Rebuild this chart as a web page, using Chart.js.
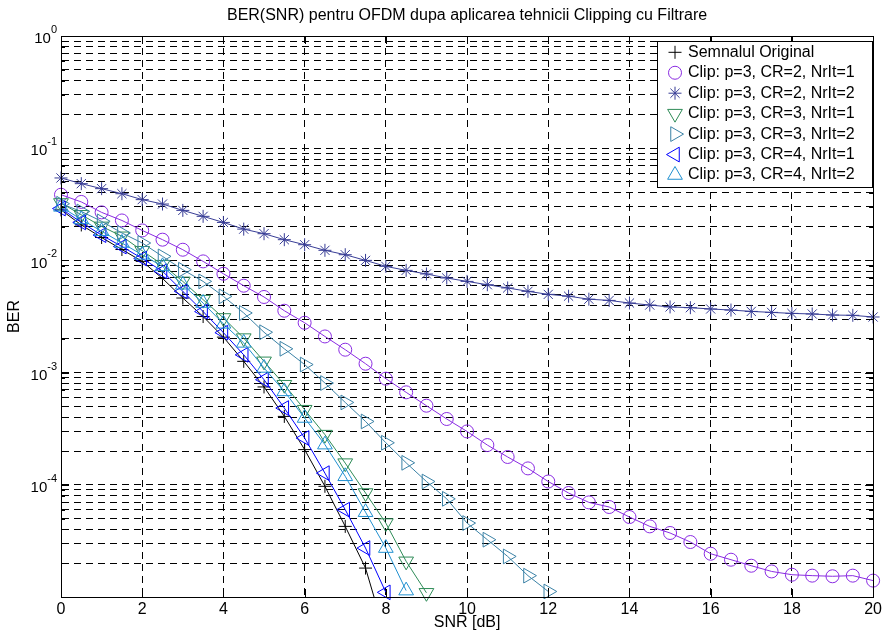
<!DOCTYPE html>
<html>
<head>
<meta charset="utf-8">
<script src="https://cdn.jsdelivr.net/npm/chart.js@4.4.1/dist/chart.umd.min.js"></script>
<style>
  html, body { margin: 0; padding: 0; background: #fff; }
  #wrap { width: 885px; height: 635px; }
</style>
</head>
<body>
<div id="wrap"><canvas id="berChart" width="885" height="635"></canvas></div>
<script>
// SNR in dB (pas 0.5 dB)
const snrDb = [0,0.5,1,1.5,2,2.5,3,3.5,4,4.5,5,5.5,6,6.5,7,7.5,8,8.5,9,9.5,10,
               10.5,11,11.5,12,12.5,13,13.5,14,14.5,15,15.5,16,16.5,17,17.5,18,18.5,19,19.5,20];

// BER
const berOriginal = [0.0282,0.0207,0.0160,0.0125,0.0098,0.0069,0.00462,0.00316,0.00207,0.00126,
                     7.45e-4,4.07e-4,2.06e-4,9.7e-5,4.26e-5,1.81e-5,4.4e-6];
const berCr2It1 = [0.0385,0.0332,0.0268,0.0227,0.0185,0.0153,0.01245,0.0098,0.0076,0.00595,
                   0.00472,0.00356,0.00278,0.0021,0.0016,0.0012,8.83e-4,6.67e-4,5.07e-4,3.86e-4,
                   2.99e-4,2.26e-4,1.77e-4,1.40e-4,1.07e-4,8.45e-5,6.97e-5,6.34e-5,5.16e-5,4.26e-5,
                   3.72e-5,3.09e-5,2.43e-5,2.15e-5,1.90e-5,1.69e-5,1.58e-5,1.55e-5,1.53e-5,1.55e-5,1.40e-5];
const berCr2It2 = [0.0543,0.0483,0.0436,0.0393,0.0348,0.0318,0.0279,0.0247,0.0218,0.0190,
                   0.0173,0.0153,0.0138,0.0123,0.01124,0.0100,0.00885,0.00815,0.00757,0.00697,
                   0.0065,0.00607,0.00568,0.0053,0.00498,0.0048,0.00451,0.0044,0.00417,0.0040,
                   0.00385,0.00379,0.00369,0.00361,0.00351,0.00344,0.00337,0.00333,0.00326,0.00324,0.00313];
const berCr3It1 = [0.0325,0.0255,0.0201,0.0164,0.0122,0.00916,0.0065,0.00447,0.00307,0.00203,
                   0.00126,7.8e-4,4.67e-4,2.8e-4,1.56e-4,8.45e-5,4.56e-5,2.08e-5,1.09e-5];
const berCr3It2 = [0.0320,0.0273,0.0223,0.01755,0.01429,0.01086,0.00826,0.0065,0.00478,0.0034,
                   0.00229,0.00163,0.00118,8.07e-4,5.42e-4,3.67e-4,2.37e-4,1.57e-4,1.07e-4,7.5e-5,
                   4.56e-5,3.24e-5,2.30e-5,1.55e-5,1.12e-5];
const berCr4It1 = [0.0290,0.0218,0.0168,0.0133,0.0104,0.0080,0.0053,0.0035,0.00227,0.00144,
                   8.65e-4,4.83e-4,2.61e-4,1.27e-4,6.0e-5,2.73e-5,1.10e-5];
const berCr4It2 = [0.0300,0.0232,0.0182,0.0143,0.0112,0.00885,0.00607,0.00417,0.00272,0.00184,
                   0.00110,6.8e-4,3.94e-4,2.28e-4,1.19e-4,5.7e-5,2.73e-5,1.14e-5];

const seriesLabels = [
  'Semnalul Original',
  'Clip: p=3, CR=2, NrIt=1',
  'Clip: p=3, CR=2, NrIt=2',
  'Clip: p=3, CR=3, NrIt=1',
  'Clip: p=3, CR=3, NrIt=2',
  'Clip: p=3, CR=4, NrIt=1',
  'Clip: p=3, CR=4, NrIt=2'
];
const seriesValues = [berOriginal, berCr2It1, berCr2It2, berCr3It1, berCr3It2, berCr4It1, berCr4It2];

const chartTitle = 'BER(SNR) pentru OFDM dupa aplicarea tehnicii Clipping cu Filtrare';

// axe
const xTicks = [0,2,4,6,8,10,12,14,16,18,20];
const yDecades = [1e-5,1e-4,1e-3,1e-2,1e-1,1];
const yMinorSteps = [2,3,4,5,6,7,8,9];
const yLabelExps = ['-4','-3','-2','-1','0'];

// stiluri (marker MATLAB -> pointStyle Chart.js)
const styles = [
  { color: '#000000', point: 'cross',    rot: 0,   r: 6.5 },
  { color: '#8a2be2', point: 'circle',   rot: 0,   r: 6.5 },
  { color: '#383d96', point: 'star',     rot: 0,   r: 6.5 },
  { color: '#2e8b57', point: 'triangle', rot: 180, r: 8.5 },
  { color: '#3b82a6', point: 'triangle', rot: 90,  r: 8.5 },
  { color: '#0000ff', point: 'triangle', rot: 270, r: 8.5 },
  { color: '#2090d0', point: 'triangle', rot: 0,   r: 8.5 }
];

const FONT = '"Liberation Sans", Arial, sans-serif';

const yGridTicks = [];
yDecades.forEach(d => {
  yGridTicks.push({ value: d, major: true });
  if (d < 1) yMinorSteps.forEach(m => yGridTicks.push({ value: m * d, major: false }));
});

const datasets = seriesValues.map((vals, i) => {
  const st = styles[i];
  return {
    label: seriesLabels[i],
    data: vals.map((v, k) => ({ x: snrDb[k], y: v })),
    borderColor: st.color,
    borderWidth: 1,
    pointStyle: st.point,
    pointRotation: st.rot,
    pointRadius: st.r,
    pointBorderWidth: 1,
    pointBorderColor: st.color,
    pointBackgroundColor: 'rgba(0,0,0,0)',
    tension: 0,
    order: seriesValues.length - i,
    clip: i === 0 ? { left: 9, top: 9, right: 9, bottom: 0 } : 9
  };
});

// rama, tick-uri interioare, titlu, etichete 10^n si legenda
const matlabAxes = {
  id: 'matlabAxes',
  afterDraw(chart) {
    const ctx = chart.ctx;
    const a = chart.chartArea;
    const xs = chart.scales.x;
    const ys = chart.scales.y;
    ctx.save();
    ctx.strokeStyle = '#000';
    ctx.lineWidth = 1;
    ctx.setLineDash([]);
    ctx.strokeRect(Math.round(a.left) + 0.5, Math.round(a.top) + 0.5,
                   Math.round(a.right - a.left), Math.round(a.bottom - a.top));

    ctx.beginPath();
    xTicks.forEach(t => {
      const px = Math.round(xs.getPixelForValue(t)) + 0.5;
      ctx.moveTo(px, a.bottom); ctx.lineTo(px, a.bottom - 8);
      ctx.moveTo(px, a.top); ctx.lineTo(px, a.top + 8);
    });
    yGridTicks.forEach(t => {
      const py = Math.round(ys.getPixelForValue(t.value)) + 0.5;
      const len = t.major ? 8 : 4;
      ctx.moveTo(a.left, py); ctx.lineTo(a.left + len, py);
      ctx.moveTo(a.right, py); ctx.lineTo(a.right - len, py);
    });
    ctx.stroke();

    ctx.fillStyle = '#000';
    // titlu centrat peste zona graficului
    ctx.font = '16px ' + FONT;
    ctx.textAlign = 'center';
    ctx.textBaseline = 'middle';
    ctx.fillText(chartTitle, (a.left + a.right) / 2, 16);

    // etichete axa Y
    yLabelExps.forEach(e => {
      const py = ys.getPixelForValue(Math.pow(10, Number(e)));
      ctx.font = '11px ' + FONT;
      ctx.textAlign = 'right';
      const ew = ctx.measureText(e).width;
      ctx.fillText(e, 57, py - 6);
      ctx.font = '15px ' + FONT;
      ctx.fillText('10', 57 - ew, py + 3);
    });

    // legenda
    const lx = 657, ly = 41, lw = 215, lh = 146;
    ctx.fillStyle = '#fff';
    ctx.fillRect(lx, ly, lw, lh);
    ctx.strokeRect(lx + 0.5, ly + 0.5, lw, lh);
    ctx.font = '16px ' + FONT;
    ctx.textAlign = 'left';
    seriesLabels.forEach((lab, i) => {
      const st = styles[i];
      const cy = 52.3 + 20.45 * i;
      ctx.strokeStyle = st.color;
      ctx.fillStyle = 'rgba(0,0,0,0)';
      Chart.helpers.drawPoint(ctx, { pointStyle: st.point, rotation: st.rot, radius: st.r, borderWidth: 1 }, 675, cy);
      ctx.fillStyle = '#000';
      ctx.fillText(lab, 688, cy);
    });
    ctx.restore();
  }
};

new Chart(document.getElementById('berChart'), {
  type: 'line',
  data: { datasets },
  plugins: [matlabAxes],
  options: {
    responsive: false,
    animation: false,
    events: [],
    layout: { padding: { left: 0, right: 10, top: 36, bottom: 0 } },
    plugins: {
      legend: { display: false },
      tooltip: { enabled: false },
      title: { display: false }
    },
    scales: {
      x: {
        type: 'linear',
        min: 0,
        max: 20,
        ticks: { stepSize: 2, color: '#000', font: { family: FONT, size: 16 }, padding: 3, maxRotation: 0, autoSkip: false },
        grid: { color: '#000', lineWidth: 1, drawTicks: false },
        border: { display: true, color: '#000', width: 1, dash: [7, 5] },
        title: { display: true, text: 'SNR [dB]', color: '#000', font: { family: FONT, size: 16 }, padding: { top: 0, bottom: 3 } },
        afterFit: s => { s.height = 38; }
      },
      y: {
        type: 'logarithmic',
        min: 1e-5,
        max: 1,
        afterBuildTicks: s => { s.ticks = yGridTicks.map(t => ({ value: t.value, major: t.major })); },
        ticks: { display: false },
        grid: { color: '#000', lineWidth: 1, drawTicks: false },
        border: { display: true, color: '#000', width: 1, dash: [7, 5] },
        title: { display: true, text: 'BER', color: '#000', font: { family: FONT, size: 16 }, padding: { top: 5, bottom: 0 } },
        afterFit: s => { s.width = 61; }
      }
    }
  }
});
</script>
</body>
</html>
